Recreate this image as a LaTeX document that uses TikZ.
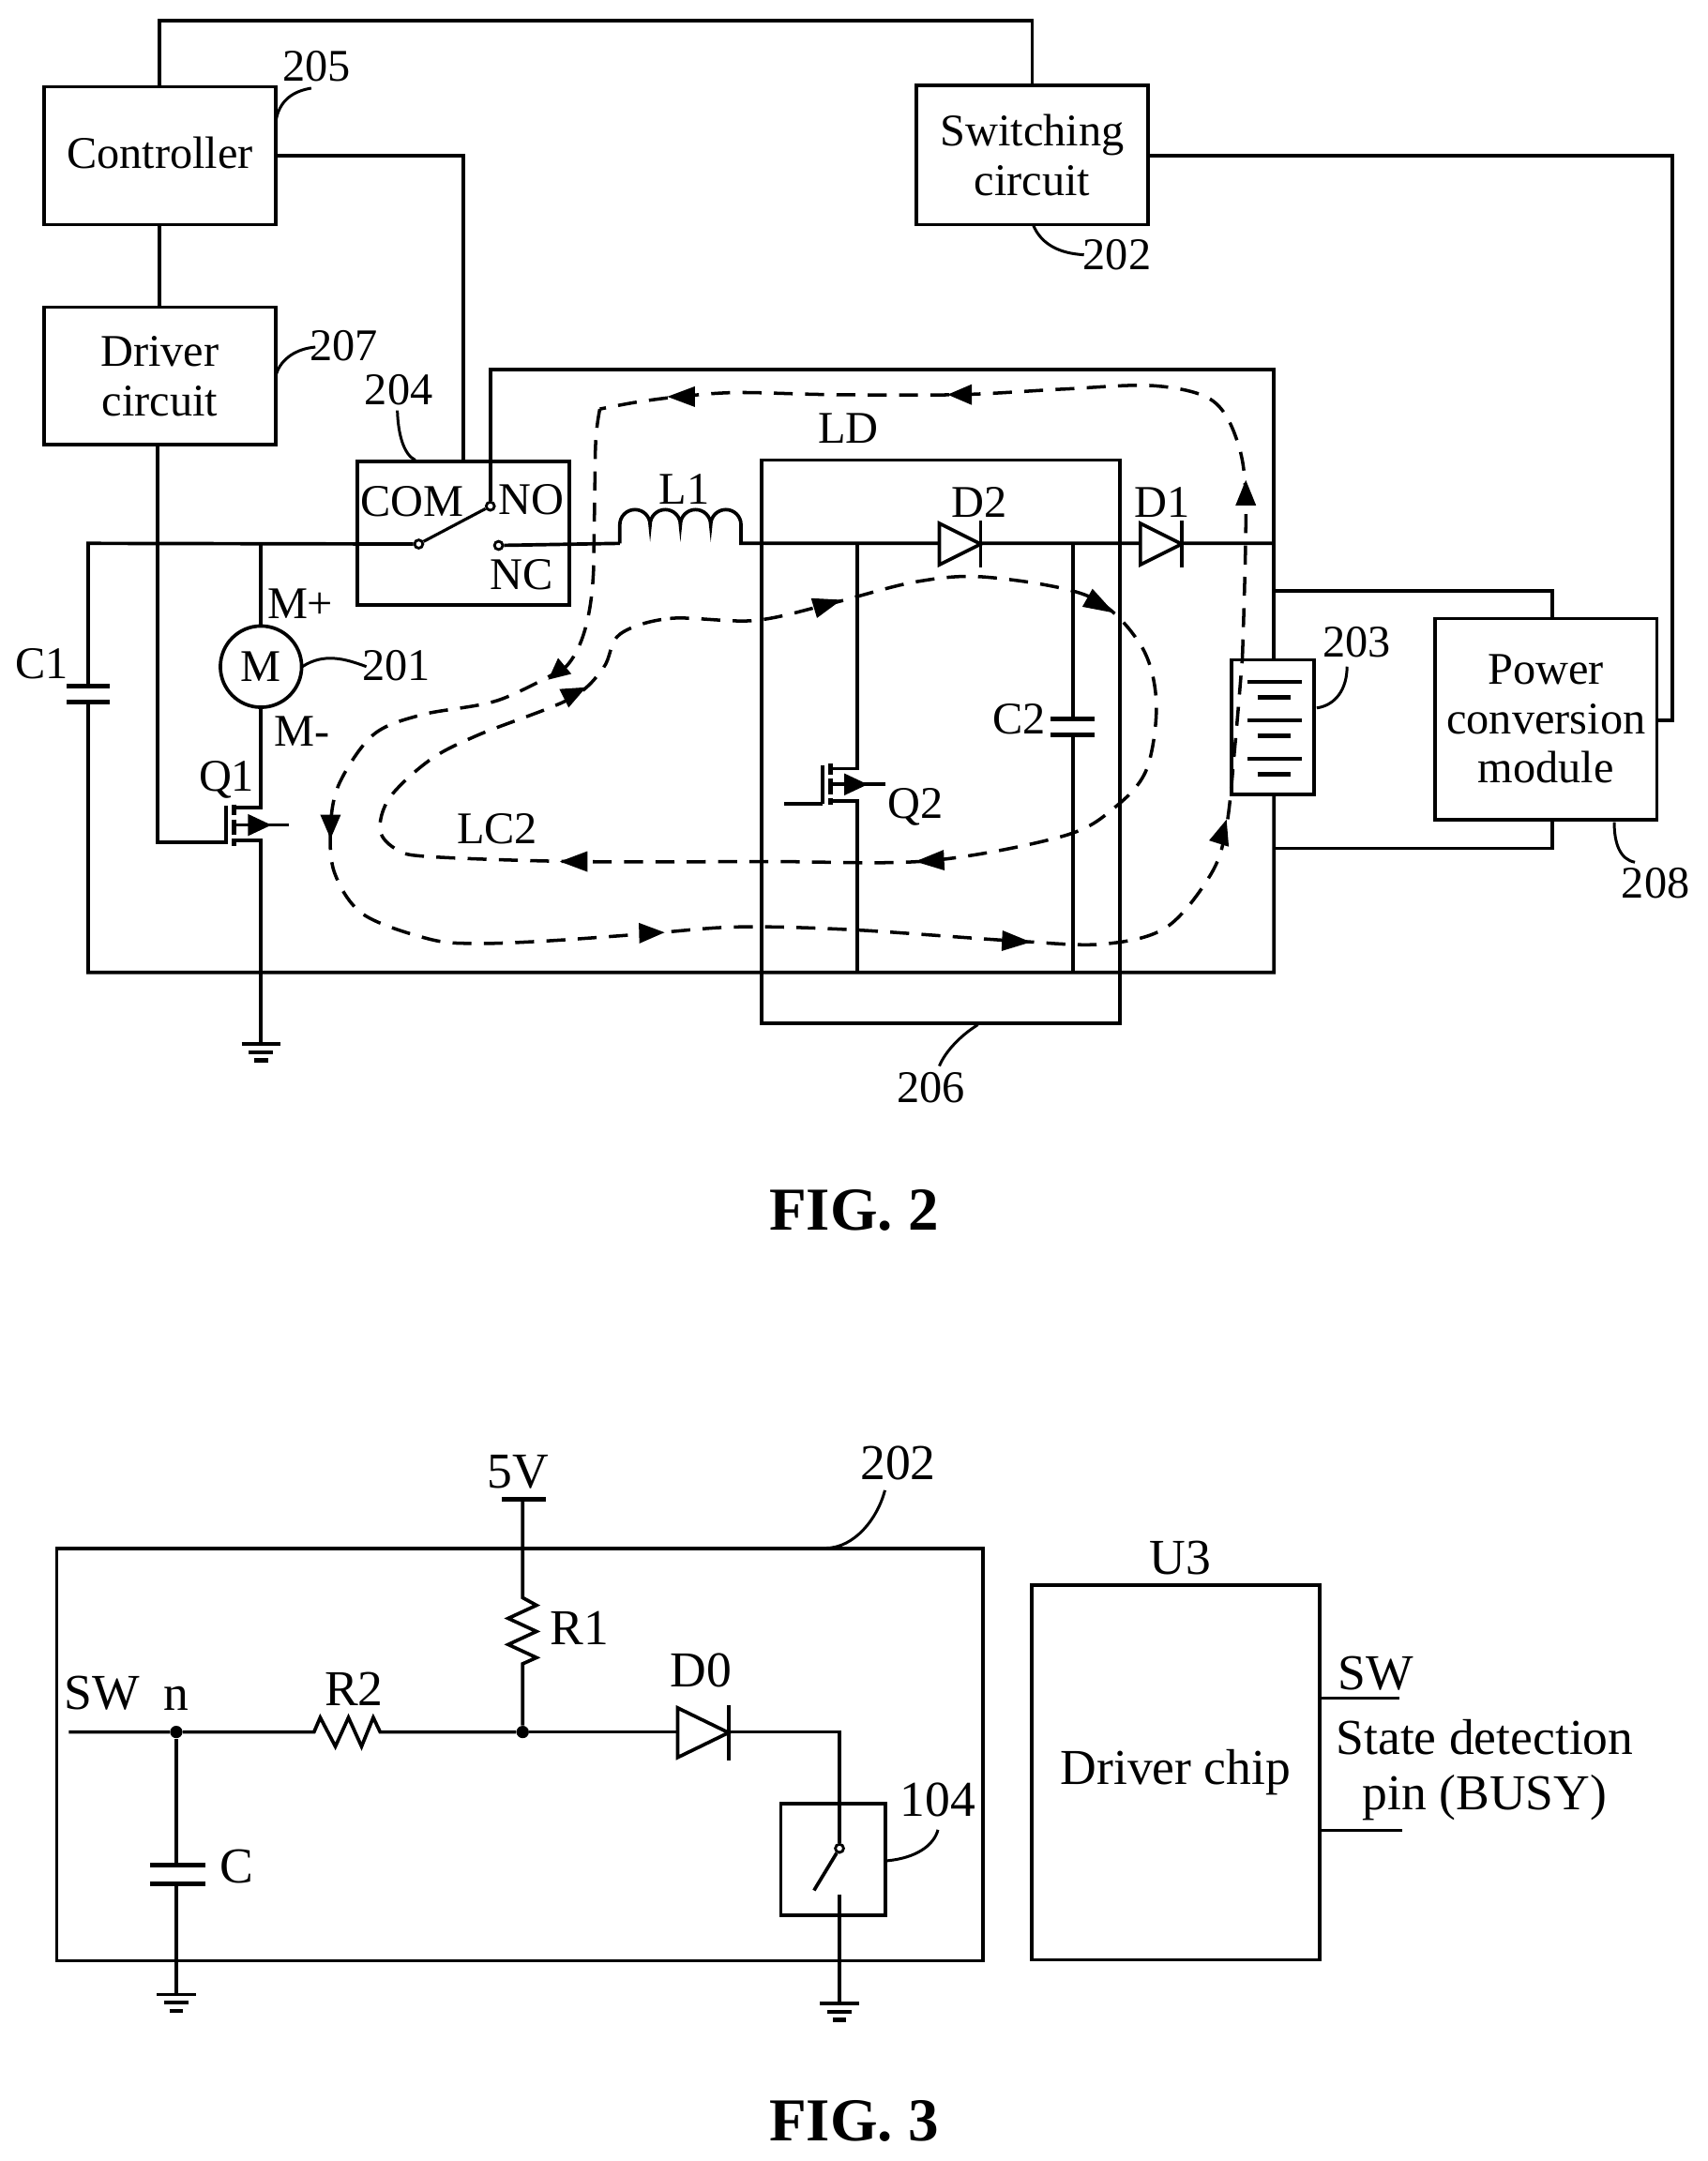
\documentclass[tikz,border=0pt]{standalone}
\usepackage{fontspec}
\setmainfont{Liberation Serif}
\usepackage{tikz}
\usetikzlibrary{calc,positioning}
\def\unitLen{0.02937cm}
\def\labelFont{\fontsize{27.5}{30}\selectfont}
\def\chipFont{\fontsize{30.5}{34}\selectfont}
\tikzset{
	wire/.style={line width=2.1pt},
	thickbar/.style={line width=2.8pt},
	blockbox/.style={draw,line width=2.1pt,align=center,inner sep=0pt,font=\labelFont},
	lbl/.style={inner sep=0pt,font=\labelFont},
	chiplbl/.style={inner sep=0pt,font=\chipFont},
	figlbl/.style={inner sep=0pt,font=\fontsize{37}{42}\selectfont\bfseries},
	leader/.style={line width=1.7pt},
	looppath/.style={line width=2pt,dash pattern=on 11.5pt off 7.5pt},
	contact/.style={draw,circle,fill=white,line width=1.6pt,inner sep=0pt,minimum size=6*\unitLen},
	joint/.style={circle,fill=black,inner sep=0pt,minimum size=9*\unitLen}
}
\newcommand\groundAt[1]{
	\draw[wire] ($(#1)+(-14,0)$) -- ($(#1)+(14,0)$);
	\draw[wire] ($(#1)+(-9,6)$) -- ($(#1)+(9,6)$);
	\draw[thickbar] ($(#1)+(-5,12)$) -- ($(#1)+(5,12)$);
}
\newcommand\diodeAt[3]{
	\begin{scope}[shift={(#1)}]
	\draw[wire,fill=white] (0,-#3) -- (0,#3) -- (#2,0) -- cycle;
	\draw[wire] (#2,-#3-2) -- (#2,#3+2);
	\end{scope}
}
\newcommand\mosAt[1]{
	\begin{scope}[shift={(#1)}]
	\draw[wire] (-6,-14) -- (-6,14);
	\draw[thickbar] (0,-15) -- (0,-7);
	\draw[thickbar] (0,-4) -- (0,7);
	\draw[thickbar] (0,10) -- (0,15);
	\fill (10,-8) -- (10,8) -- (27,0) -- cycle;
	\draw[wire] (0,0) -- (40,0);
	\end{scope}
}
\newcommand\flowArrow[2]{
	\fill ($(#1)$) -- ($(#2)!7.5*\unitLen!90:(#1)$) -- ($(#2)!7.5*\unitLen!-90:(#1)$) -- cycle;
}
\begin{document}
\begin{tikzpicture}[x=\unitLen,y=-\unitLen]

	\useasboundingbox (0,0) rectangle (1240,1569);

	% FIG. 2 blocks
	\node[blockbox,minimum width=168*\unitLen,minimum height=100*\unitLen,text depth=3.5pt] (Controller) at (116,113) {Controller};
	\node[blockbox,minimum width=168*\unitLen,minimum height=100*\unitLen] (Driver) at (116,273) {Driver\\circuit};
	\node[blockbox,minimum width=168*\unitLen,minimum height=101*\unitLen] (Switching) at (749.5,112.5) {Switching\\circuit};
	\node[draw,line width=2.1pt,inner sep=0pt,minimum width=154*\unitLen,minimum height=104*\unitLen] (Relay) at (336.5,387) {};
	\node[draw,line width=2.1pt,inner sep=0pt,minimum width=260*\unitLen,minimum height=409*\unitLen] (LD) at (683,538.5) {};
	\node[blockbox,minimum width=161*\unitLen,minimum height=146*\unitLen] (Power) at (1122.5,522) {Power\\conversion\\module};
	\node[draw,line width=2.1pt,inner sep=0pt,minimum width=60*\unitLen,minimum height=98*\unitLen] (Battery) at (924,528) {};
	\node[draw,circle,line width=2.1pt,inner sep=0pt,minimum size=59*\unitLen,font=\labelFont] (Motor) at (189.5,484) {M};

	\coordinate (TopRun) at (432,15);
	\coordinate (TL) at (64,394.5);
	\coordinate (BL) at (64,706);
	\coordinate (TR) at (925,394.5);
	\coordinate (BR) at (925,706);
	\coordinate (M1) at (189.5,394.5);
	\coordinate (GateQ1) at (114.5,611.5);
	\coordinate (GndQ1) at (189.5,758);
	\coordinate (P1) at (1127,429);
	\coordinate (P2) at (1127,616);
	\coordinate (PwrRun) at (1214,523);
	\coordinate (NoTop) at (356,268.5);
	\coordinate (RelayIn) at (336.5,113);

	\node[contact] (ComDot) at (304,395) {};
	\node[contact] (NoDot) at (356,367.5) {};
	\node[contact] (NcDot) at (362,396) {};

	\draw[wire] (Controller.north) |- (TopRun) -| (Switching.north);
	\draw[wire] (Controller.south) -- (Driver.north);
	\draw[wire] (Controller.east |- RelayIn) -- (RelayIn) -- (RelayIn |- Relay.north);
	\draw[wire] (Switching.east |- RelayIn) -- (1214,113) -- (PwrRun) -- (Power.east |- PwrRun);
	\draw[wire] (Driver.south -| GateQ1) -- (GateQ1) -- (164,611.5);

	% main rails
	\draw[wire] (ComDot) -- (TL) -- (BL) -- (BR) -- (Battery.south -| BR);
	\draw[wire] (NoDot) -- (NoTop) -- (925,268.5) -- (Battery.north -| BR);
	\draw[wire,line width=1.8pt] (ComDot) -- (NoDot);
	\draw[wire] (NcDot) -- (450,394.5);
	\draw[wire] (450,394.5) -- (450,381) arc[start angle=180,end angle=360,radius=11] arc[start angle=180,end angle=360,radius=11] arc[start angle=180,end angle=360,radius=11] arc[start angle=180,end angle=360,radius=11] -- (538,394.5) -- (TR);
	\draw[wire] (925,429) -- (P1) -- (Power.north -| P1);
	\draw[wire] (925,616) -- (P2) -- (Power.south -| P2);

	% motor and Q1
	\draw[wire] (M1) -- (Motor.north);
	\draw[wire] (Motor.south) -- (189.5,586.5) -- (170,586.5);
	\draw[wire] (170,610) -- (189.5,610) -- (GndQ1);
	\mosAt{170,599}
	\groundAt{GndQ1}

	% C1
	\fill[white] (60,499) rectangle (68,509);
	\draw[thickbar] (48.5,498) -- (80,498);
	\draw[thickbar] (48.5,509.5) -- (80,509.5);

	% Q2
	\coordinate (Q2Top) at (622.5,394.5);
	\coordinate (Q2Bot) at (622.5,706);
	\draw[wire] (Q2Top) -- (622.5,558) -- (603,558);
	\draw[wire] (603,581.5) -- (622.5,581.5) -- (Q2Bot);
	\mosAt{603,569.5}
	\draw[wire] (569,583.5) -- (597,583.5);

	% C2
	\draw[wire] (779,394.5) -- (779,522);
	\draw[wire] (779,533.5) -- (779,706);
	\draw[thickbar] (763,522) -- (795,522);
	\draw[thickbar] (763,533.5) -- (795,533.5);

	\diodeAt{682,395}{30}{15}
	\diodeAt{828,395}{30}{15}

	% cell stack
	\foreach \cellY in {495,523,551} {
		\draw[wire] (906,\cellY) -- (945,\cellY);
	}
	\foreach \cellY in {506,534,562} {
		\draw[thickbar] (913,\cellY) -- (937,\cellY);
	}

	% current loops
	\draw[looppath] plot[smooth,tension=0.55] coordinates {(902,478) (904.5,363) (897.5,318) (879,290) (837,280) (772,282.5) (697,286.5) (604,286.5) (535,285) (493,288) (462,292) (435.5,297)};
	\draw[looppath] (435.5,297) .. controls (433,310) and (432,320) .. (432,345) -- (431,412) .. controls (430,440) and (425,470) .. (410,485);
	\draw[looppath] plot[smooth,tension=0.55] coordinates {(410,485) (361.5,508.5) (306,519) (271,533.5) (246.5,568.5) (240,600) (243,634) (264,664) (312.5,682) (347.5,685) (399.5,683) (469,678) (535,673) (618,675) (734.5,683) (800,685.5) (846.5,673.5) (879,635) (890.5,600) (897,537.5) (902,478)};
	\draw[looppath] plot[smooth cycle,tension=0.55] coordinates {(450,460.5) (486.5,449) (548,450.5) (604,438) (664.5,422.5) (716,419) (790.5,433) (828,468) (839.5,509.5) (832.5,558.5) (809,586.5) (772,607) (674,625) (557,625.5) (417,625.5) (312.5,622) (288.5,617) (276,603) (283,579) (312.5,551.5) (347.5,533.5) (413.5,507.5) (438,485)};

	\flowArrow{904.5,348.5}{904.5,367}
	\flowArrow{688,286.5}{705.5,286.5}
	\flowArrow{484.5,288}{504.5,288}
	\flowArrow{398,493.5}{410,483.5}
	\flowArrow{240,609}{240,591.5}
	\flowArrow{482.5,677}{464,677.5}
	\flowArrow{748.5,684}{727.5,683}
	\flowArrow{890.5,595}{885,612.5}
	\flowArrow{425.5,499}{409.5,507}
	\flowArrow{611,435.5}{591,441.5}
	\flowArrow{809,445}{789.5,434}
	\flowArrow{664.5,625.5}{685.5,624.5}
	\flowArrow{406.5,625.5}{426.5,625.5}

	% reference leaders
	\draw[leader] (200,90) .. controls (202,72) and (214,66) .. (226,64);
	\draw[leader] (200.5,272) .. controls (204,260) and (216,253) .. (229,252);
	\draw[leader] (288.5,298) .. controls (289,315) and (293,330) .. (301.5,334);
	\draw[leader] (219.5,484) .. controls (235,474) and (250,478) .. (266,484);
	\draw[leader] (750,163) .. controls (756,178) and (770,184) .. (787,185);
	\draw[leader] (978,484) .. controls (978,500) and (970,512) .. (956,514);
	\draw[leader] (1172,597) .. controls (1172,612) and (1176,624) .. (1187,626);
	\draw[leader] (710,744) .. controls (697,752) and (686,764) .. (682,774);

	\node[lbl] (T205) at (230,48) {205};
	\node[lbl] (T207) at (249.5,251) {207};
	\node[lbl] (T204) at (289.5,283) {204};
	\node[lbl] (T202a) at (811,185) {202};
	\node[lbl] (Tcom) at (299.5,364) {COM};
	\node[lbl] (Tno) at (385.5,363) {NO};
	\node[lbl] (Tnc) at (379,417) {NC};
	\node[lbl] (Tl1) at (497,355.5) {L1};
	\node[lbl] (Tld) at (616,311) {LD};
	\node[lbl] (Td2) at (711,365) {D2};
	\node[lbl] (Td1) at (843.5,365) {D1};
	\node[lbl] (Tmp) at (218,438) {M+};
	\node[lbl] (Tmm) at (219,531) {M-};
	\node[lbl] (T201) at (288,483) {201};
	\node[lbl] (Tc1) at (30.5,482) {C1};
	\node[lbl] (Tq1) at (164.5,566) {Q1};
	\node[lbl] (Tlc2) at (361,602) {LC2};
	\node[lbl] (Tc2) at (740,522) {C2};
	\node[lbl] (Tq2) at (664.5,586) {Q2};
	\node[lbl] (T203) at (985,466) {203};
	\node[lbl] (T208) at (1202,641) {208};
	\node[lbl] (T206) at (676,790) {206};
	\node[figlbl] (Fig2) at (620,879) {FIG. 2};

	% FIG. 3
	\node[draw,line width=2.1pt,inner sep=0pt,minimum width=672.5*\unitLen,minimum height=299*\unitLen] (Sw202) at (377.5,1274) {};
	\node[blockbox,minimum width=209*\unitLen,minimum height=272*\unitLen,font=\chipFont] (U3) at (853.5,1287) {Driver chip};
	\node[draw,line width=2.1pt,inner sep=0pt,minimum width=76*\unitLen,minimum height=81*\unitLen] (Sw104) at (605,1350) {};
	\node[joint] (Nn) at (128,1257.5) {};
	\node[joint] (Nr) at (379.5,1257.5) {};
	\node[contact] (SwDot) at (609.5,1342) {};

	\coordinate (SwIn) at (50,1257.5);
	\coordinate (Vcc) at (379.5,1088.5);
	\coordinate (GndC) at (128,1448);
	\coordinate (GndS) at (609.5,1454.5);
	\coordinate (SwArm) at (591,1372.5);
	\coordinate (SwLow) at (609.5,1375.5);
	\coordinate (DOut) at (609.5,1257.5);

	\draw[wire] (SwIn) -- (Nn) -- (228,1257.5) -- (232.5,1247) -- (243.5,1268) -- (253,1247) -- (262.5,1268) -- (271,1247) -- (276,1257.5) -- (Nr);
	\draw[wire] (Nr) -- (DOut) -- (SwDot);
	\draw[wire] (SwDot) -- (SwArm);
	\draw[wire] (SwLow) -- (GndS);
	\draw[thickbar] (364.5,1088.5) -- (396.5,1088.5);
	\draw[wire] (Vcc) -- (379.5,1160) -- (389.5,1165.5) -- (369,1175) -- (389.5,1184.5) -- (369,1194) -- (389.5,1203.5) -- (379.5,1208) -- (Nr);
	\draw[wire] (Nn) -- (128,1354);
	\draw[wire] (128,1368) -- (GndC);
	\draw[thickbar] (109,1354) -- (149,1354);
	\draw[thickbar] (109,1368) -- (149,1368);
	\diodeAt{492,1258}{37}{18}
	\groundAt{GndC}
	\groundAt{GndS}

	\draw[wire] (U3.east |- 0,1233) -- (1016,1233);
	\draw[wire] (U3.east |- 0,1329) -- (1018,1329);

	\draw[leader] (642.5,1082) .. controls (637,1103) and (620,1124) .. (599.5,1124);
	\draw[leader] (681,1328.5) .. controls (678,1340) and (665,1349) .. (644,1351);

	\node[chiplbl] (T5v) at (376,1069) {5V};
	\node[chiplbl] (T202b) at (652,1062) {202};
	\node[chiplbl] (Tsw) at (74,1229) {SW};
	\node[chiplbl] (Tn) at (128,1233) {n};
	\node[chiplbl] (Tr2) at (257,1226) {R2};
	\node[chiplbl] (Tr1) at (421,1182) {R1};
	\node[chiplbl] (Td0) at (509,1213) {D0};
	\node[chiplbl] (Tc) at (172,1355) {C};
	\node[chiplbl] (T104) at (681,1307) {104};
	\node[chiplbl] (Tu3) at (857,1131) {U3};
	\node[chiplbl] (Tsw2) at (999,1215) {SW};
	\node[chiplbl,align=center] (Tbusy) at (1078,1285) {State detection\\pin (BUSY)};
	\node[figlbl] (Fig3) at (620,1540) {FIG. 3};

\end{tikzpicture}
\end{document}
